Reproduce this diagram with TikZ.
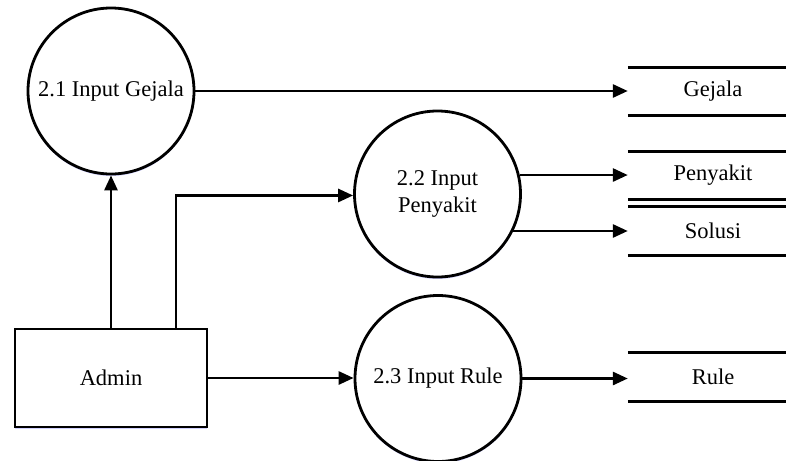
\documentclass[tikz,border=0pt]{standalone}
\usepackage{fontspec}
\setmainfont{Liberation Serif}
\usetikzlibrary{arrows.meta,shadows}
\begin{document}
\begin{tikzpicture}[x=1pt,y=-1pt,
  every node/.style={font=\fontsize{22.5}{27}\selectfont},
  halo/.style={drop shadow={shadow xshift=0pt,shadow yshift=-2pt,fill=blue!18!white,opacity=1}},
  process/.style={circle,draw,fill=white,line width=2.8pt,minimum size=166pt,inner sep=0pt,align=center,halo},
  entity/.style={rectangle,draw,fill=white,line width=2.8pt,minimum width=192pt,minimum height=98pt,halo},
  store/.style={minimum width=170pt,minimum height=48pt,inner sep=0pt},
  storeline/.style={line width=2.8pt},
  flow/.style={line width=2.8pt,-{Triangle[length=15pt,width=13pt]}}]
\useasboundingbox (0,0) rectangle (786,460);
\clip (0,0) rectangle (786,460);

% processes
\node[process] (p21) at (111,91) {2.1 Input Gejala};
\node[process] (p22) at (437.5,194) {2.2 Input\\Penyakit};
\node[process] (p23) at (438,378.5) {2.3 Input Rule};

% external entity
\node[entity] (admin) at (111,378) {Admin};

% data stores
\node[store] (gejala) at (713,91.5) {Gejala};
\node[store] (penyakit) at (713,175.5) {Penyakit};
\node[store] (solusi) at (713,231) {Solusi};
\node[store] (rule) at (713,377) {Rule};
\foreach \s in {gejala,penyakit,solusi,rule}
  \draw[storeline] (\s.north west) -- (\s.north east)
                   (\s.south west) -- (\s.south east);

% data flows
\draw[flow] (admin.north) -- (p21.south);
\draw[flow] ([xshift=65pt]admin.north) |- (p22.181);
\draw[flow] (admin.east) -- (admin.east -| p23.west);
\draw[flow] (p21.east) -- (p21.east -| gejala.west);
\draw[flow] (p22.13) -- (p22.13 -| penyakit.west);
\draw[flow] (p22.-26) -- (p22.-26 -| solusi.west);
\draw[flow] (p23.east) -- (p23.east -| rule.west);
\end{tikzpicture}
\end{document}
